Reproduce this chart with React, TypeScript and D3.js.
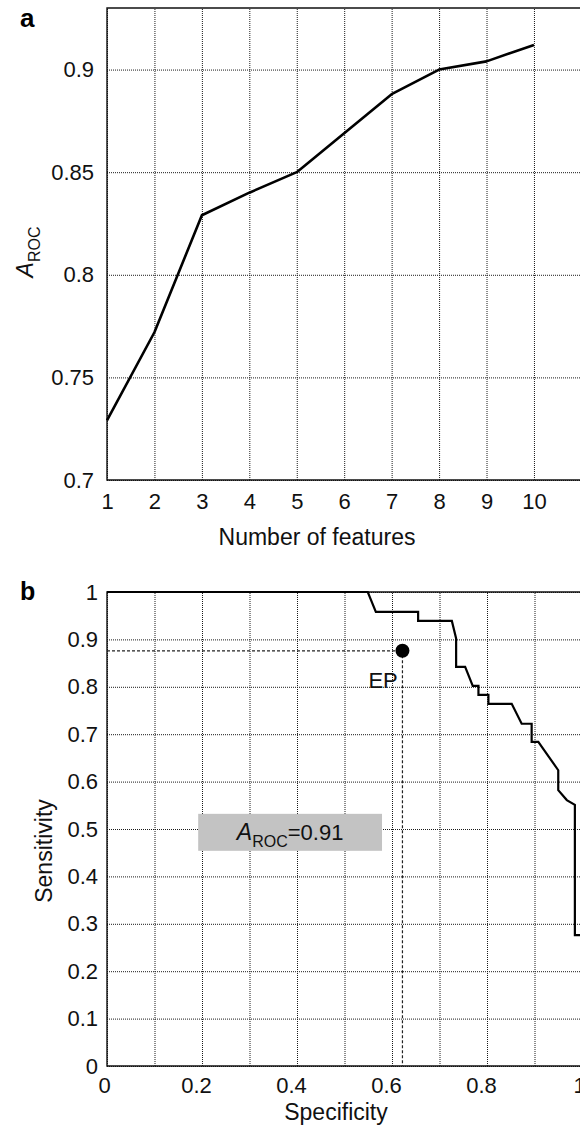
import React, { useRef, useEffect } from "react";
import * as d3 from "d3";

// panel a: A_ROC vs number of features
const featureCounts = [1, 2, 3, 4, 5, 6, 7, 8, 9, 10];
const aurocByFeatures = [0.729, 0.772, 0.829, 0.84, 0.85, 0.869, 0.888, 0.9, 0.904, 0.912];
const panelAXTicks = [1, 2, 3, 4, 5, 6, 7, 8, 9, 10];
const panelAYTicks = [0.7, 0.75, 0.8, 0.85, 0.9];

// panel b: ROC curve (specificity, sensitivity)
const rocSpecificity = [
  0, 0.549, 0.566, 0.655, 0.655, 0.726, 0.735, 0.735, 0.754, 0.77, 0.782, 0.782, 0.803,
  0.803, 0.852, 0.873, 0.894, 0.894, 0.908, 0.95, 0.95, 0.968, 0.985, 0.985, 1,
];
const rocSensitivity = [
  1, 1, 0.958, 0.958, 0.939, 0.939, 0.902, 0.842, 0.842, 0.802, 0.802, 0.783, 0.783,
  0.764, 0.764, 0.722, 0.722, 0.684, 0.684, 0.624, 0.582, 0.561, 0.551, 0.276, 0.276,
];
const panelBGridTicks = [0, 0.1, 0.2, 0.3, 0.4, 0.5, 0.6, 0.7, 0.8, 0.9, 1];
const panelBXLabels = [0, 0.2, 0.4, 0.6, 0.8, 1];
const panelBYTicks = [0, 0.1, 0.2, 0.3, 0.4, 0.5, 0.6, 0.7, 0.8, 0.9, 1];
const epPoint = { specificity: 0.622, sensitivity: 0.876 };
const aurocValue = "0.91";

const FONT = "'Liberation Sans', Arial, Helvetica, sans-serif";

const App = () => {
  const svgRef = useRef<SVGSVGElement>(null);

  useEffect(() => {
    const svg = d3.select(svgRef.current);
    svg.selectAll("*").remove();
    svg.attr("font-family", FONT);

    const styleGrid = (g: any) => {
      g.select(".domain").remove();
      g.attr("font-family", null).attr("font-size", null);
      g.selectAll(".tick line")
        .attr("stroke", "#1a1a1a")
        .attr("stroke-width", 1)
        .attr("stroke-dasharray", "1,1");
      g.selectAll(".tick text").attr("font-size", 22).attr("fill", "#111");
    };

    // ---------- panel a ----------
    const a = { left: 107, right: 581.4, top: 8, bottom: 480 };
    const xA = d3.scaleLinear().domain([1, 11]).range([a.left, a.right]);
    const yA = d3.scaleLinear().domain([0.7, 0.93]).range([a.bottom, a.top]);

    svg
      .append("g")
      .attr("transform", `translate(0,${a.bottom})`)
      .call(
        d3
          .axisBottom(xA)
          .tickValues(panelAXTicks)
          .tickSize(-(a.bottom - a.top))
          .tickPadding(13)
          .tickFormat(d3.format("d"))
      )
      .call(styleGrid);

    svg
      .append("g")
      .attr("transform", `translate(${a.left},0)`)
      .call(
        d3
          .axisLeft(yA)
          .tickValues(panelAYTicks)
          .tickSize(-(a.right - a.left))
          .tickPadding(13)
          .tickFormat((d: any) => String(d))
      )
      .call(styleGrid);

    // frame
    svg
      .append("path")
      .attr("d", `M${a.right},${a.top}H${a.left}V${a.bottom}H${a.right}`)
      .attr("fill", "none")
      .attr("stroke", "#111")
      .attr("stroke-width", 1.4);

    const lineA = d3
      .line<number>()
      .x((d, i) => xA(featureCounts[i]))
      .y((d) => yA(d));

    svg
      .append("path")
      .attr("d", lineA(aurocByFeatures))
      .attr("fill", "none")
      .attr("stroke", "#000")
      .attr("stroke-width", 2.6)
      .attr("stroke-linejoin", "round");

    svg
      .append("text")
      .attr("x", 20)
      .attr("y", 27)
      .attr("font-size", 26)
      .attr("font-weight", "bold")
      .text("a");

    const yLabA = svg
      .append("text")
      .attr("transform", "translate(33,252) rotate(-90)")
      .attr("text-anchor", "middle")
      .attr("fill", "#111");
    yLabA.append("tspan").attr("font-size", 23).attr("font-style", "italic").text("A");
    yLabA.append("tspan").attr("font-size", 16).attr("dy", 7).text("ROC");

    svg
      .append("text")
      .attr("x", 317)
      .attr("y", 545)
      .attr("text-anchor", "middle")
      .attr("font-size", 23)
      .attr("fill", "#111")
      .text("Number of features");

    // ---------- panel b ----------
    const b = { left: 107, right: 582, top: 592, bottom: 1066 };
    const xB = d3.scaleLinear().domain([0, 1]).range([b.left, b.right]);
    const yB = d3.scaleLinear().domain([0, 1]).range([b.bottom, b.top]);

    const gxB = svg
      .append("g")
      .attr("transform", `translate(0,${b.bottom})`)
      .call(
        d3
          .axisBottom(xB)
          .tickValues(panelBGridTicks)
          .tickSize(-(b.bottom - b.top))
          .tickPadding(11)
          .tickFormat((d: any) =>
            panelBXLabels.some((v) => Math.abs(v - d) < 1e-9) ? String(+d.toFixed(1)) : ""
          )
      )
      .call(styleGrid);
    gxB.selectAll(".tick text").attr("dx", function () {
      return (d3.select(this).text().length > 1 ? -6 : -3) as any;
    });

    svg
      .append("g")
      .attr("transform", `translate(${b.left},0)`)
      .call(
        d3
          .axisLeft(yB)
          .tickValues(panelBYTicks)
          .tickSize(-(b.right - b.left))
          .tickPadding(9)
          .tickFormat((d: any) => String(+d.toFixed(1)))
      )
      .call(styleGrid);

    svg
      .append("path")
      .attr("d", `M${b.right},${b.top}H${b.left}V${b.bottom}H${b.right}`)
      .attr("fill", "none")
      .attr("stroke", "#111")
      .attr("stroke-width", 1.4);

    // A_ROC box
    const boxX0 = xB(0.192);
    const boxX1 = xB(0.579);
    const boxY0 = yB(0.532);
    const boxY1 = yB(0.454);
    svg
      .append("rect")
      .attr("x", boxX0)
      .attr("y", boxY0)
      .attr("width", boxX1 - boxX0)
      .attr("height", boxY1 - boxY0)
      .attr("fill", "#c3c3c3");
    const boxText = svg
      .append("text")
      .attr("x", (boxX0 + boxX1) / 2)
      .attr("y", 840)
      .attr("text-anchor", "middle")
      .attr("fill", "#111");
    boxText.append("tspan").attr("font-size", 23).attr("font-style", "italic").text("A");
    boxText.append("tspan").attr("font-size", 16).attr("dy", 7).text("ROC");
    boxText.append("tspan").attr("font-size", 22).attr("dy", -7).text(`=${aurocValue}`);

    // EP guide lines
    svg
      .append("path")
      .attr(
        "d",
        `M${xB(0)},${yB(epPoint.sensitivity)}H${xB(epPoint.specificity)}V${yB(0)}`
      )
      .attr("fill", "none")
      .attr("stroke", "#222")
      .attr("stroke-width", 1.2)
      .attr("stroke-dasharray", "3,2");

    const lineB = d3
      .line<number>()
      .x((d, i) => xB(rocSpecificity[i]))
      .y((d) => yB(d));

    svg
      .append("path")
      .attr("d", lineB(rocSensitivity))
      .attr("fill", "none")
      .attr("stroke", "#000")
      .attr("stroke-width", 2.2)
      .attr("stroke-linejoin", "miter");

    svg
      .append("circle")
      .attr("cx", xB(epPoint.specificity))
      .attr("cy", yB(epPoint.sensitivity))
      .attr("r", 7)
      .attr("fill", "#000");

    svg
      .append("text")
      .attr("x", xB(epPoint.specificity) - 34)
      .attr("y", yB(epPoint.sensitivity) + 37)
      .attr("font-size", 22)
      .attr("fill", "#111")
      .text("EP");

    svg
      .append("text")
      .attr("x", 20)
      .attr("y", 600)
      .attr("font-size", 25)
      .attr("font-weight", "bold")
      .text("b");

    svg
      .append("text")
      .attr("transform", "translate(52,851) rotate(-90)")
      .attr("text-anchor", "middle")
      .attr("font-size", 23)
      .attr("fill", "#111")
      .text("Sensitivity");

    svg
      .append("text")
      .attr("x", 336)
      .attr("y", 1120)
      .attr("text-anchor", "middle")
      .attr("font-size", 23)
      .attr("fill", "#111")
      .text("Specificity");
  }, []);

  return (
    <svg
      ref={svgRef}
      width={580}
      height={1126}
      style={{ position: "absolute", left: 0, top: 0, background: "#fff" }}
    ></svg>
  );
};

export default App;
